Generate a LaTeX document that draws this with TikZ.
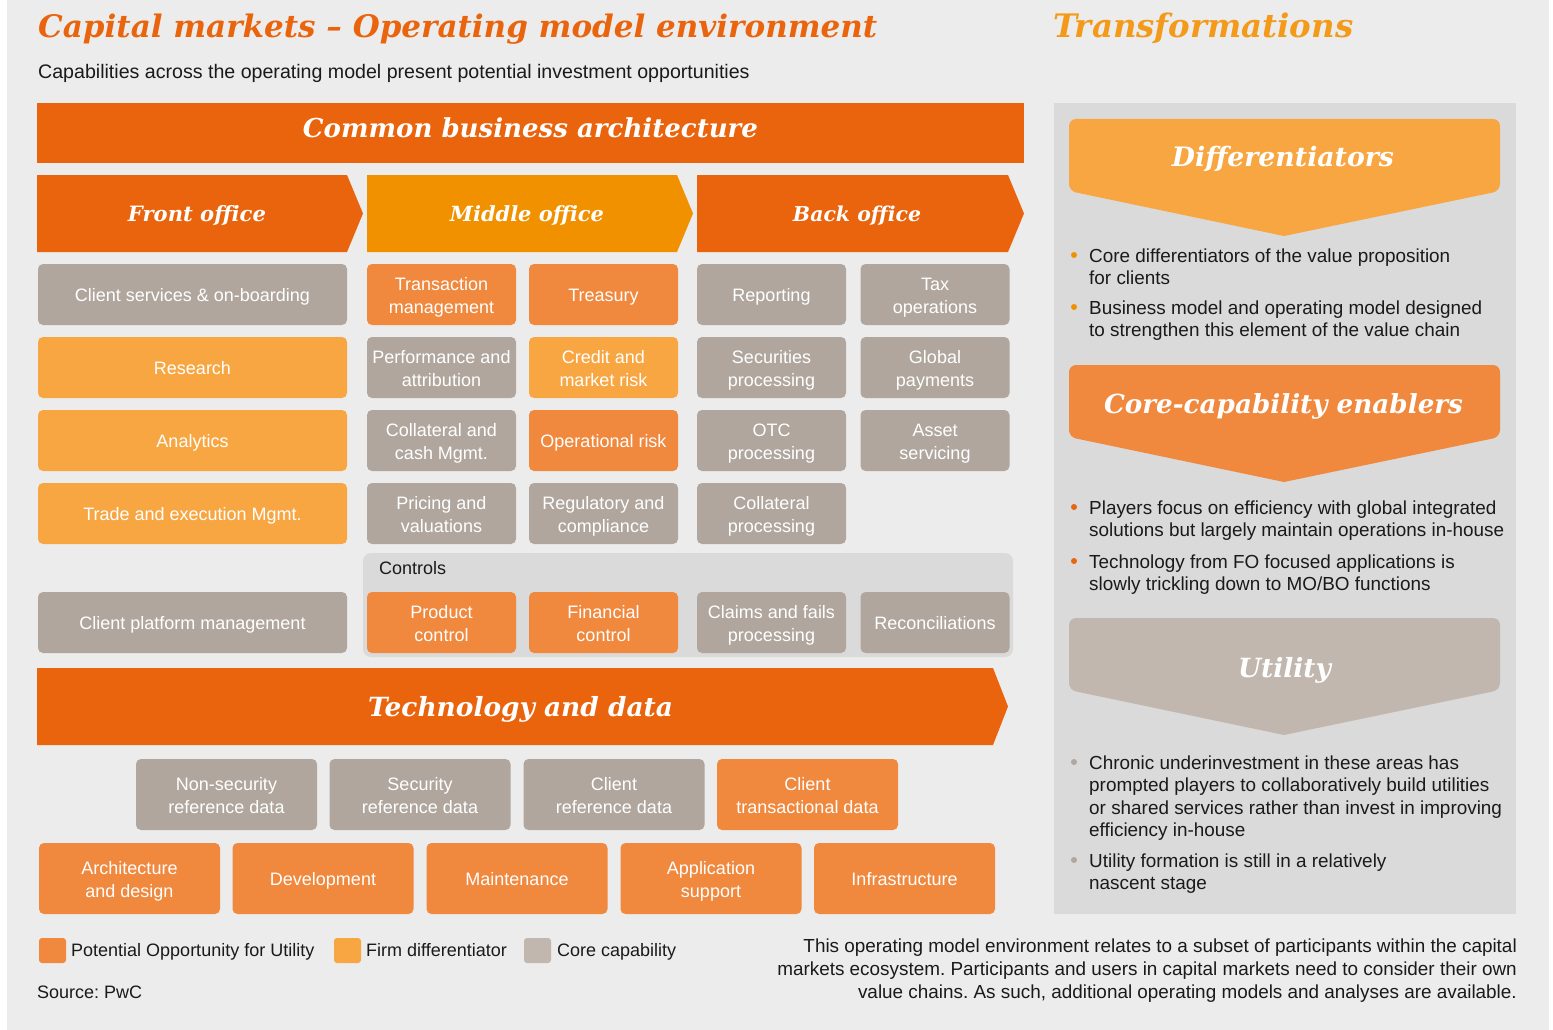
\documentclass[tikz,border=0pt]{standalone}
\usepackage{fontspec}
\setmainfont{Liberation Sans}
\newfontfamily\headfont{DejaVu Serif}
\usepackage{graphicx}
\frenchspacing
\definecolor{bgc}{HTML}{ECECEC}
\definecolor{dorange}{HTML}{E9640C}
\definecolor{morange}{HTML}{F29100}
\definecolor{gold}{HTML}{F39A1A}
\definecolor{opp}{HTML}{F0883E}
\definecolor{diff}{HTML}{F8A642}
\definecolor{core}{HTML}{B0A69D}
\definecolor{lcore}{HTML}{C1B7AE}
\definecolor{panel}{HTML}{DADADA}
\definecolor{txt}{HTML}{1A1A1A}
\newcommand{\hd}[2]{\resizebox{#1}{!}{\headfont\bfseries\itshape #2}}
\newcommand{\fl}{\rule{0pt}{18.5pt}}
\tikzset{
  capbox/.style={rounded corners=5pt, inner sep=0pt, text=white, align=center,
    font=\fontsize{18}{22.5}\selectfont, minimum height=61pt, minimum width=149pt,
    execute at begin node={\rule{0pt}{17pt}}, execute at end node={\rule[-4pt]{0pt}{0pt}}},
  fob/.style={capbox, minimum width=309pt},
  dbox/.style={capbox, minimum width=181pt, minimum height=71pt},
  hdtxt/.style={text=white, inner sep=0pt, anchor=base},
  plain/.style={anchor=base west, inner sep=0pt, text=txt, font=\fontsize{18}{22.5}\selectfont},
  bul/.style={anchor=base west, inner sep=0pt, text=txt, align=left, font=\fontsize{18.9}{22.5}\selectfont},
  dot/.style={circle, inner sep=0pt, minimum size=6pt},
  legsq/.style={rounded corners=3pt, inner sep=0pt, minimum width=27pt, minimum height=25pt}
}
\begin{document}
\begin{tikzpicture}[x=1pt,y=-1pt]
\useasboundingbox (0,0) rectangle (1553,1030);
\fill[white] (0,0) rectangle (1553,1030);
\fill[bgc] (7,0) rectangle (1549,1030);

% titles
\node[anchor=base west, inner sep=0pt, text=dorange] (title) at (38,38) {\hd{839pt}{Capital markets – Operating model environment}};
\node[anchor=base west, inner sep=0pt, text=gold] (ttrans) at (1053,38) {\hd{300pt}{Transformations}};
\node[plain, font=\fontsize{19.6}{23}\selectfont] (subtitle) at (38,79) {Capabilities across the operating model present potential investment opportunities};

% common business architecture
\fill[dorange] (37,103) rectangle (1024,163);
\node[hdtxt] (cba) at (530.5,138) {\hd{455pt}{Common business architecture}};

% chevrons
\fill[dorange] (37,175) -- (347,175) -- (363,213.5) -- (347,252) -- (37,252) -- cycle;
\fill[morange] (367,175) -- (677,175) -- (693,213.5) -- (677,252) -- (367,252) -- cycle;
\fill[dorange] (697,175) -- (1008,175) -- (1024,213.5) -- (1008,252) -- (697,252) -- cycle;
\node[hdtxt] (fo) at (197,222) {\hd{138pt}{Front office}};
\node[hdtxt] (mo) at (527,222) {\hd{154pt}{Middle office}};
\node[hdtxt] (bo) at (857,222) {\hd{128pt}{Back office}};

% front office
\node[fob, fill=core] (cs) at (192.5,294.5) {Client services \& on-boarding};
\node[fob, fill=diff] (res) at (192.5,367.5) {Research};
\node[fob, fill=diff] (ana) at (192.5,440.5) {Analytics};
\node[fob, fill=diff] (tem) at (192.5,513.5) {Trade and execution Mgmt.};
\node[fob, fill=core] (cpm) at (192.5,622.5) {Client platform management};

% middle office
\node[capbox, fill=opp] (tm) at (441.5,294.5) {\fl Transaction\\management};
\node[capbox, fill=opp] (tr) at (603.5,294.5) {Treasury};
\node[capbox, fill=core] (pa) at (441.5,367.5) {\fl Performance and\\attribution};
\node[capbox, fill=diff] (cmr) at (603.5,367.5) {\fl Credit and\\market risk};
\node[capbox, fill=core] (ccm) at (441.5,440.5) {\fl Collateral and\\cash Mgmt.};
\node[capbox, fill=opp] (opr) at (603.5,440.5) {Operational risk};
\node[capbox, fill=core] (pv) at (441.5,513.5) {\fl Pricing and\\valuations};
\node[capbox, fill=core] (rc) at (603.5,513.5) {\fl Regulatory and\\compliance};

% back office
\node[capbox, fill=core] (rep) at (771.5,294.5) {Reporting};
\node[capbox, fill=core] (tax) at (935,294.5) {\fl Tax\\operations};
\node[capbox, fill=core] (sp) at (771.5,367.5) {\fl Securities\\processing};
\node[capbox, fill=core] (gp) at (935,367.5) {\fl Global\\payments};
\node[capbox, fill=core] (otc) at (771.5,440.5) {\fl OTC\\processing};
\node[capbox, fill=core] (as) at (935,440.5) {\fl Asset\\servicing};
\node[capbox, fill=core] (cp) at (771.5,513.5) {\fl Collateral\\processing};

% controls
\node[rounded corners=8pt, fill=panel, inner sep=0pt, minimum width=650pt, minimum height=104pt] (ctrl) at (688,605) {};
\node[plain] (ctrllbl) at (379,574) {Controls};
\node[capbox, fill=opp] (pc) at (441.5,622.5) {\fl Product\\control};
\node[capbox, fill=opp] (fc) at (603.5,622.5) {\fl Financial\\control};
\node[capbox, fill=core] (cf) at (771.5,622.5) {\fl Claims and fails\\processing};
\node[capbox, fill=core] (rec) at (935,622.5) {Reconciliations};

% technology and data
\fill[dorange] (37,668) -- (993,668) -- (1008,706.5) -- (993,745) -- (37,745) -- cycle;
\node[hdtxt] (td) at (520.5,716) {\hd{305pt}{Technology and data}};

\node[dbox, fill=core] (nsr) at (226.5,794.5) {\fl Non-security\\reference data};
\node[dbox, fill=core] (sr) at (420,794.5) {\fl Security\\reference data};
\node[dbox, fill=core] (cr) at (614,794.5) {\fl Client\\reference data};
\node[dbox, fill=opp] (ct) at (807.5,794.5) {\fl Client\\transactional data};

\node[dbox, fill=opp] (ad) at (129.5,878.5) {\fl Architecture\\and design};
\node[dbox, fill=opp] (dev) at (323,878.5) {Development};
\node[dbox, fill=opp] (mnt) at (517,878.5) {Maintenance};
\node[dbox, fill=opp] (aps) at (711,878.5) {\fl Application\\support};
\node[dbox, fill=opp] (inf) at (904.5,878.5) {Infrastructure};

% transformations panel
\fill[panel] (1054,103) rectangle (1516,914);
\fill[diff] (1284,236) [rounded corners=7pt] -- (1069,191) -- (1069,119) -- (1500,119) -- (1500,191) [sharp corners] -- cycle;
\node[hdtxt] (dif) at (1283,167) {\hd{222pt}{Differentiators}};
\fill[opp] (1284,482) [rounded corners=7pt] -- (1069,437) -- (1069,365) -- (1500,365) -- (1500,437) [sharp corners] -- cycle;
\node[hdtxt] (cce) at (1283.5,413) {\hd{359pt}{Core-capability enablers}};
\fill[lcore] (1284,735) [rounded corners=7pt] -- (1069,690) -- (1069,618) -- (1500,618) -- (1500,690) [sharp corners] -- cycle;
\node[hdtxt] (uti) at (1284.5,677) {\hd{93pt}{Utility}};

% bullets (anchor = baseline of last line)
\node[dot, fill=morange] (d1) at (1074,255) {};
\node[bul] (b1) at (1089,284.5) {Core differentiators of the value proposition\\for clients};
\node[dot, fill=morange] (d2) at (1074,307) {};
\node[bul] (b2) at (1089,336.5) {Business model and operating model designed\\to strengthen this element of the value chain};
\node[dot, fill=dorange] (d3) at (1074,507) {};
\node[bul] (b3) at (1089,536.5) {Players focus on efficiency with global integrated\\solutions but largely maintain operations in-house};
\node[dot, fill=dorange] (d4) at (1074,561) {};
\node[bul] (b4) at (1089,590.5) {Technology from FO focused applications is\\slowly trickling down to MO/BO functions};
\node[dot, fill=core] (d5) at (1074,762) {};
\node[bul] (b5) at (1089,836.5) {Chronic underinvestment in these areas has\\prompted players to collaboratively build utilities\\or shared services rather than invest in improving\\efficiency in-house};
\node[dot, fill=core] (d6) at (1074,860) {};
\node[bul] (b6) at (1089,889.5) {Utility formation is still in a relatively\\nascent stage};

% legend
\node[legsq, fill=opp] (l1) at (52.5,950.5) {};
\node[plain] (l1t) at (71,956) {Potential Opportunity for Utility};
\node[legsq, fill=diff] (l2) at (347.5,950.5) {};
\node[plain] (l2t) at (366,956) {Firm differentiator};
\node[legsq, fill=lcore] (l3) at (537.5,950.5) {};
\node[plain] (l3t) at (557,956) {Core capability};
\node[plain] (src) at (37,998) {Source: PwC};

\node[anchor=base east, inner sep=0pt, align=right, text=txt, font=\fontsize{18.9}{23}\selectfont] (note) at (1517,998) {This operating model environment relates to a subset of participants within the capital\\markets ecosystem. Participants and users in capital markets need to consider their own\\value chains. As such, additional operating models and analyses are available.};
\end{tikzpicture}
\end{document}
